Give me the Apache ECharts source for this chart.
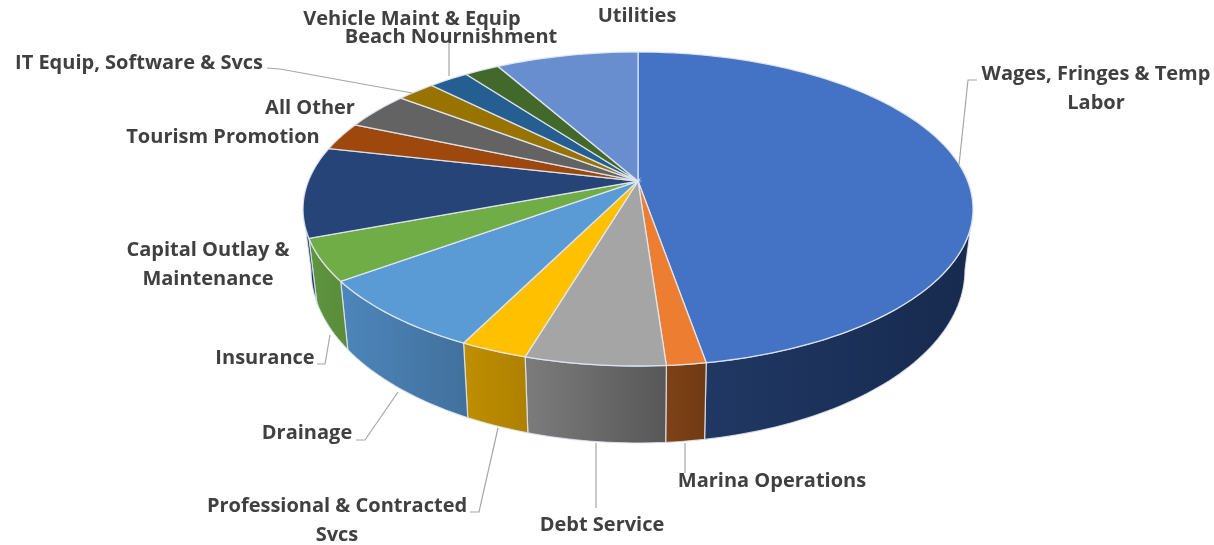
<!DOCTYPE html>
<html>
<head>
<meta charset="utf-8">
<script src="https://cdn.jsdelivr.net/npm/echarts@6/dist/echarts.min.js"></script>
<style>
  html, body { margin: 0; padding: 0; background: #fff; }
  #main { width: 1214px; height: 545px; }
</style>
</head>
<body>
<div id="main"></div>
<script>
// share of budget per slice (percent, clockwise from 12 o'clock)
const categories = [
  'Wages, Fringes & Temp\nLabor', 'Marina Operations', 'Debt Service',
  'Professional & Contracted\nSvcs', 'Drainage', 'Insurance',
  'Capital Outlay &\nMaintenance', 'Tourism Promotion', 'All Other',
  'IT Equip, Software & Svcs', 'Vehicle Maint & Equip', 'Beach Nournishment', 'Utilities'
];
const shares = [47.2, 1.6, 5.7, 2.75, 7.6, 4.3, 9.3, 2.9, 3.85, 2.2, 2.3, 2.0, 8.15];

const topColors = ['#4472C4', '#ED7D31', '#A5A5A5', '#FFC000', '#5B9BD5', '#70AD47',
  '#264478', '#9E480E', '#636363', '#997300', '#255E91', '#43682B', '#698ED0'];
const wallColors = [
  ['#203864', '#172A4E'], ['#7E4217', '#713A13'], ['#7C7C7C', '#575757'], ['#BF8F00', '#AD8000'],
  ['#4D86BB', '#41709C'], ['#5F9440', '#5A8C3A'], ['#1C335C', '#1C335C'], ['#763608', '#763608'],
  ['#4A4A4A', '#4A4A4A'], ['#735600', '#735600'], ['#1C466D', '#1C466D'], ['#324E20', '#324E20'],
  ['#4F6A9C', '#4F6A9C']
];

// page layout, not data
const topFace = { cx: 638, cy: 209, rx: 335, ry: 157 };
const bottomFace = { cx: 638, cy: 270, rx: 327, ry: 173 };
const tilt = 0.178; // perspective pushes the pie centre up
const labelAt = [[1096, 89], [772, 481], [602, 525], [337, 521], [307, 433], [265, 358],
  [208, 265], [223, 137], [310, 108], [139, 63], [412, 19], [451, 37], [637, 16]];
const leaders = {
  0: [[959, 165], [968, 80], [977, 80]],
  1: [[685, 443], [685, 473]],
  2: [[596, 443], [596, 508]],
  3: [[498, 428], [479, 512], [470, 512]],
  4: [[398, 392], [365, 440], [356, 440]],
  5: [[330, 335], [325, 364], [317, 364]],
  9: [[267, 68], [280, 69], [412, 93]],
  11: [[449, 42], [449, 76]]
};

const total = shares.reduce((a, b) => a + b, 0);
const startAngle = shares.map((v, i) => shares.slice(0, i).reduce((a, b) => a + b, 0) / total * 360);

// true pie angle -> angle on the drawn ellipse
function ellipseAngle(deg) {
  const r = deg * Math.PI / 180;
  const X = Math.sin(r), Y = Math.cos(r);
  const d = 1 + tilt * Y;
  let t = Math.atan2(X * Math.sqrt(1 - tilt * tilt) / d, (Y + tilt) / d) * 180 / Math.PI;
  if (t < 0) t += 360;
  if (deg >= 360) t = 360;
  return t;
}
function onFace(face, t) {
  const r = t * Math.PI / 180;
  return [face.cx + face.rx * Math.sin(r), face.cy - face.ry * Math.cos(r)];
}
function arc(face, t0, t1) {
  const n = Math.max(2, Math.ceil(Math.abs(t1 - t0) / 1.5));
  const pts = [];
  for (let i = 0; i <= n; i++) pts.push(onFace(face, t0 + (t1 - t0) * i / n));
  return pts;
}

function renderSlice(params, api) {
  const i = params.dataIndex;
  const a0 = startAngle[i];
  const a1 = a0 + api.value(0) / total * 360;
  const t0 = ellipseAngle(a0), t1 = ellipseAngle(a1);
  const apex = [topFace.cx, topFace.cy - tilt * topFace.ry];
  const children = [];

  const w0 = Math.max(t0, 90), w1 = Math.min(t1, 270);
  if (w1 > w0) {
    children.push({
      type: 'polygon',
      z2: 1,
      shape: { points: arc(topFace, w0, w1).concat(arc(bottomFace, w1, w0)) },
      style: {
        fill: {
          type: 'linear', x: 0, y: 0, x2: 1, y2: 0,
          colorStops: [
            { offset: 0, color: wallColors[i][0] },
            { offset: 1, color: wallColors[i][1] }
          ]
        },
        stroke: 'rgba(225,230,238,0.85)',
        lineWidth: 1.2
      }
    });
  }
  children.push({
    type: 'polygon',
    z2: 2,
    shape: { points: [apex].concat(arc(topFace, t0, t1)) },
    style: { fill: topColors[i], stroke: 'rgba(225,232,242,0.9)', lineWidth: 1.3 }
  });
  if (leaders[i]) {
    children.push({
      type: 'polyline',
      z2: 3,
      shape: { points: leaders[i] },
      style: { fill: null, stroke: '#A6A6A6', lineWidth: 1.2 }
    });
  }
  children.push({
    type: 'text',
    z2: 4,
    style: {
      text: categories[i],
      x: labelAt[i][0],
      y: labelAt[i][1],
      align: 'center',
      verticalAlign: 'middle',
      fill: '#404040',
      font: 'bold 20px "Open Sans"',
      lineHeight: 29
    }
  });
  return { type: 'group', children: children };
}

const myChart = echarts.init(document.getElementById('main'));
const option = {
  animation: false,
  backgroundColor: '#fff',
  series: [{
    type: 'custom',
    coordinateSystem: 'none',
    silent: true,
    renderItem: renderSlice,
    data: shares.map((v, i) => ({ name: categories[i], value: [v] }))
  }]
};
myChart.setOption(option);
</script>
</body>
</html>
